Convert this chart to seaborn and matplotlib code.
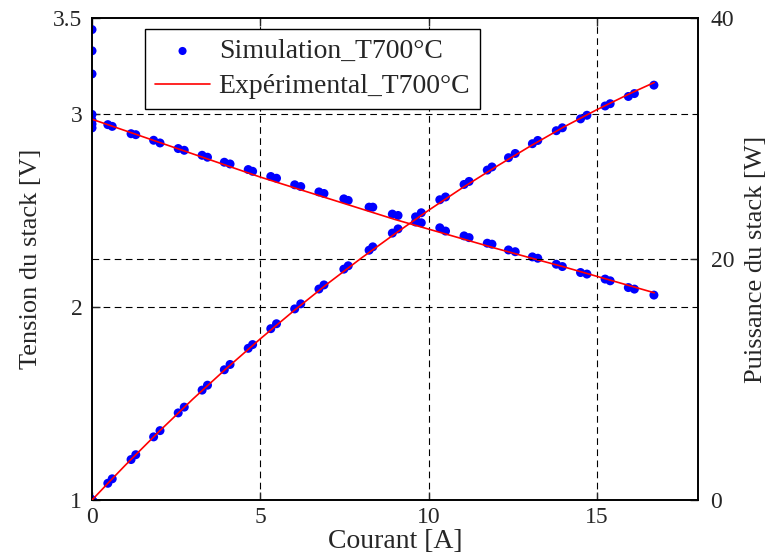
import matplotlib
matplotlib.use("Agg")
import matplotlib.pyplot as plt
import seaborn as sns
import pandas as pd

# Simulated stack operating points (current [A], voltage [V], power [W])
sim_current = [0, 0, 0, 0, 0, 0, 0,
               0.47, 0.60, 1.16, 1.30, 1.83, 2.02, 2.56, 2.74, 3.27, 3.43,
               3.93, 4.10, 4.64, 4.77, 5.31, 5.48, 6.02, 6.20, 6.74, 6.89,
               7.48, 7.61, 8.23, 8.34, 8.92, 9.09, 9.61, 9.78, 10.33, 10.50,
               11.05, 11.20, 11.74, 11.88, 12.37, 12.57, 13.08, 13.24, 13.79,
               13.97, 14.51, 14.70, 15.24, 15.39, 15.93, 16.11, 16.69]
sim_voltage = [3.44, 3.33, 3.21, 3.00, 2.97, 2.95, 2.93,
               2.947, 2.938, 2.900, 2.895, 2.866, 2.852, 2.823, 2.814, 2.788,
               2.778, 2.752, 2.743, 2.714, 2.705, 2.678, 2.669, 2.635, 2.626,
               2.598, 2.590, 2.562, 2.554, 2.519, 2.519, 2.483, 2.476, 2.442,
               2.438, 2.412, 2.395, 2.370, 2.361, 2.332, 2.327, 2.297, 2.288,
               2.261, 2.254, 2.223, 2.211, 2.180, 2.172, 2.146, 2.137, 2.102,
               2.094, 2.063]
sim_power = [0, 0, 0, 0, 0, 0, 0,
             1.39, 1.76, 3.36, 3.76, 5.24, 5.76, 7.23, 7.71, 9.12, 9.53,
             10.81, 11.25, 12.59, 12.90, 14.22, 14.63, 15.86, 16.28, 17.51,
             17.85, 19.16, 19.44, 20.73, 21.01, 22.15, 22.50, 23.50, 23.84,
             24.92, 25.15, 26.19, 26.44, 27.38, 27.64, 28.41, 28.76, 29.57,
             29.84, 30.65, 30.89, 31.63, 31.93, 32.70, 32.89, 33.49, 33.73,
             34.43]

# Measured polarisation / power curves
exp_current = [0, 0.5, 1, 2, 3, 4, 5, 6, 7, 8, 9, 10, 11, 12, 13, 14, 15,
               16, 16.7]
exp_voltage = [2.975, 2.945, 2.915, 2.855, 2.795, 2.735, 2.675, 2.62, 2.565,
               2.51, 2.455, 2.405, 2.355, 2.305, 2.257, 2.21, 2.16, 2.11,
               2.075]
exp_power = [0, 1.47, 2.92, 5.71, 8.39, 10.94, 13.38, 15.72, 17.96, 20.08,
             22.10, 24.05, 25.91, 27.66, 29.34, 30.94, 32.40, 33.76, 34.65]

x_ticks = [0, 5, 10, 15]
v_ticks = [1, 2, 3, 3.5]
v_tick_labels = ["1", "2", "3", "3.5"]
p_ticks = [0, 20, 40]

sim = pd.DataFrame({"I": sim_current, "U": sim_voltage, "P": sim_power})
exp = pd.DataFrame({"I": exp_current, "U": exp_voltage, "P": exp_power})

sns.set_style("ticks")
plt.rcParams["font.family"] = ["Liberation Serif", "DejaVu Serif"]

fig = plt.figure(figsize=(7.68, 5.58), dpi=100)
ax = fig.add_axes([0.1198, 0.1039, 0.7891, 0.8638])
ax2 = ax.twinx()

blue = "#0000ff"
red = "#ff0000"

sns.scatterplot(data=sim, x="I", y="U", ax=ax, color=blue, s=42,
                edgecolor="none", label="Simulation_T700°C", zorder=2)
sns.lineplot(data=exp, x="I", y="U", ax=ax, color=red, linewidth=1.2,
             label="Expérimental_T700°C", sort=False, zorder=3)

sns.scatterplot(data=sim, x="I", y="P", ax=ax2, color=blue, s=42,
                edgecolor="none", legend=False, zorder=2)
sns.lineplot(data=exp, x="I", y="P", ax=ax2, color=red, linewidth=1.2,
             legend=False, sort=False, zorder=3)

ax.set_xlim(0, 18)
ax.set_ylim(1, 3.5)
ax2.set_ylim(0, 40)

ax.set_xticks(x_ticks)
ax.set_yticks(v_ticks)
ax.set_yticklabels(v_tick_labels)
ax2.set_yticks(p_ticks)

grid_kw = dict(color="black", linestyle=(0, (6, 4)), linewidth=0.8)
for xv in x_ticks[1:]:
    ax.axvline(xv, zorder=0, **grid_kw)
for yv in [2, 3]:
    ax.axhline(yv, zorder=0, **grid_kw)
ax2.axhline(20, zorder=0, **grid_kw)

for a in (ax, ax2):
    for sp in a.spines.values():
        sp.set_visible(True)
        sp.set_color("black")
        sp.set_linewidth(1.2)

ax.tick_params(axis="x", direction="in", length=6, width=1,
               labelsize=17, top=True, pad=5)
ax.tick_params(axis="y", direction="in", length=6, width=1,
               labelsize=17, right=False, pad=7)
ax2.tick_params(axis="y", direction="in", length=6, width=1,
                labelsize=17, right=True, pad=9)

ax.set_xlabel("Courant [A]", fontsize=20, labelpad=1)
ax.set_ylabel("Tension du stack [V]", fontsize=19, labelpad=8)
ax2.set_ylabel("Puissance du stack [W]", fontsize=19, labelpad=8)

leg = ax.legend(loc="upper left", bbox_to_anchor=(0.0875, 0.977),
                borderaxespad=0, fontsize=20, frameon=True, fancybox=False,
                framealpha=1, edgecolor="black", borderpad=0.35,
                handlelength=2.0, handletextpad=0.3, labelspacing=0.35,
                markerscale=0.9)
leg.get_frame().set_linewidth(1.0)
leg.set_zorder(10)

fig.savefig("out.png", dpi=100)
